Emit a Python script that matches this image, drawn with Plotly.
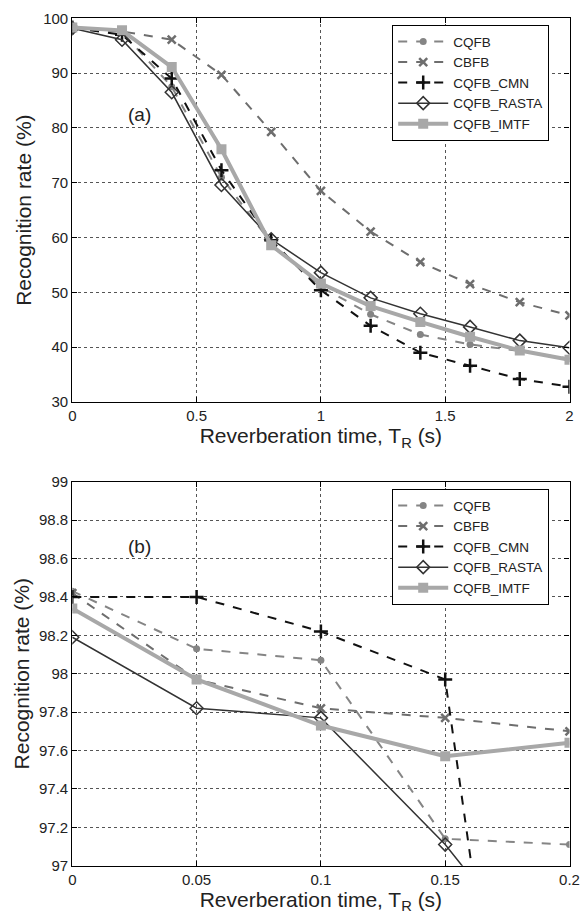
import plotly.graph_objects as go

# ---- data: panel (a) ----
x_a = [0, 0.2, 0.4, 0.6, 0.8, 1.0, 1.2, 1.4, 1.6, 1.8, 2.0]
cqfb_a = [98.3, 97.5, 87.5, 71.0, 59.0, 51.0, 46.0, 42.3, 40.5, 39.3, 37.9]
cbfb_a = [98.3, 97.6, 96.1, 89.7, 79.3, 68.5, 61.1, 55.5, 51.5, 48.2, 45.8]
cmn_a = [98.3, 97.0, 89.0, 72.3, 59.5, 50.4, 43.9, 39.0, 36.6, 34.2, 32.8]
rasta_a = [98.2, 96.1, 86.5, 69.6, 59.7, 53.6, 49.0, 46.1, 43.7, 41.2, 39.9]
imtf_a = [98.3, 97.8, 91.1, 76.1, 58.6, 51.6, 47.5, 44.6, 41.9, 39.4, 37.7]

# ---- data: panel (b) ----
x_b = [0, 0.05, 0.1, 0.15, 0.2]
cqfb_b = [98.43, 98.13, 98.07, 97.14, 97.11]
cbfb_b = [98.42, 97.97, 97.82, 97.77, 97.70]
cmn_b = [98.40, 98.40, 98.22, 97.97, 93.4]
rasta_b = [98.19, 97.82, 97.77, 97.11, 96.3]
imtf_b = [98.34, 97.97, 97.73, 97.57, 97.64]

names = ["CQFB", "CBFB", "CQFB_CMN", "CQFB_RASTA", "CQFB_IMTF"]
y_ticks_a = [30, 40, 50, 60, 70, 80, 90, 100]
x_ticks_a = [0, 0.5, 1, 1.5, 2]
y_ticks_b = [97, 97.2, 97.4, 97.6, 97.8, 98, 98.2, 98.4, 98.6, 98.8, 99]
x_ticks_b = [0, 0.05, 0.1, 0.15, 0.2]

styles = [
    dict(line=dict(color="#858585", width=2, dash="dash"),
         marker=dict(symbol="circle", size=7, color="#858585")),
    dict(line=dict(color="#6e6e6e", width=2, dash="dash"),
         marker=dict(symbol="x-thin", size=8, line=dict(color="#6e6e6e", width=2.5))),
    dict(line=dict(color="#111111", width=2, dash="dash"),
         marker=dict(symbol="cross-thin", size=10, line=dict(color="#111111", width=2.5))),
    dict(line=dict(color="#333333", width=1.5),
         marker=dict(symbol="diamond-open", size=10, color="#333333", line=dict(width=1.5))),
    dict(line=dict(color="#a8a8a8", width=4),
         marker=dict(symbol="square", size=10, color="#a8a8a8")),
]

fig = go.Figure()
for data, xa, ya, leg in [
    ([cqfb_a, cbfb_a, cmn_a, rasta_a, imtf_a], "x", "y", "legend"),
    ([cqfb_b, cbfb_b, cmn_b, rasta_b, imtf_b], "x2", "y2", "legend2"),
]:
    xs = x_a if xa == "x" else x_b
    for name, ys, st in zip(names, data, styles):
        fig.add_trace(go.Scatter(x=xs, y=ys, name=name, mode="lines+markers",
                                 xaxis=xa, yaxis=ya, legend=leg,
                                 line=st["line"], marker=st["marker"]))

font = "Liberation Sans, Arial, sans-serif"
axis_common = dict(showline=True, linecolor="black", linewidth=1.2, mirror="ticks",
                   ticks="inside", ticklen=5, tickcolor="black", automargin=False,
                   showgrid=True, gridcolor="#555555", griddash="dot", gridwidth=1,
                   zeroline=False, tickfont=dict(size=15, color="#222", family=font))

W, H = 582, 915
xdom = [72.3 / W, 569.5 / W]
xtitle = "Reverberation time, T<sub>R</sub> (s)"
ytitle = "Recognition rate (%)"
legend_common = dict(xanchor="left", yanchor="top", bgcolor="white",
                     bordercolor="black", borderwidth=1.2, itemwidth=50,
                     font=dict(size=13.5, color="#222"), tracegroupgap=0)
fig.update_layout(
    width=W, height=H, autosize=False,
    margin=dict(l=0, r=0, t=0, b=0, pad=0, autoexpand=False),
    paper_bgcolor="white", plot_bgcolor="white",
    font=dict(family=font, color="#222"),
    xaxis=dict(domain=xdom, anchor="y", range=[0, 2], tickvals=x_ticks_a,
               title=dict(text=xtitle, font=dict(size=21), standoff=0),
               **axis_common),
    yaxis=dict(domain=[1 - 402 / H, 1 - 18.3 / H], anchor="x", range=[30, 100], tickvals=y_ticks_a,
               title=dict(text=ytitle, font=dict(size=21), standoff=5),
               **axis_common),
    xaxis2=dict(domain=xdom, anchor="y2", range=[0, 0.2], tickvals=x_ticks_b,
                title=dict(text=xtitle, font=dict(size=21), standoff=0),
                **axis_common),
    yaxis2=dict(domain=[1 - 865.7 / H, 1 - 481.7 / H], anchor="x2", range=[97, 99], tickvals=y_ticks_b,
                title=dict(text=ytitle, font=dict(size=21), standoff=3),
                **axis_common),
    legend=dict(x=392 / W, y=1 - 25 / H, **legend_common),
    legend2=dict(x=392 / W, y=1 - 489 / H, **legend_common),
    annotations=[
        dict(text="(a)", x=0.272, y=82.4, xref="x", yref="y", showarrow=False,
             font=dict(size=19, color="#222")),
        dict(text="(b)", x=0.0272, y=98.665, xref="x2", yref="y2", showarrow=False,
             font=dict(size=19, color="#222")),
    ],
)

fig.write_html("out.html",
               config={"displayModeBar": False, "responsive": False},
               post_script="document.body.style.margin='0';document.body.style.overflow='hidden';")
